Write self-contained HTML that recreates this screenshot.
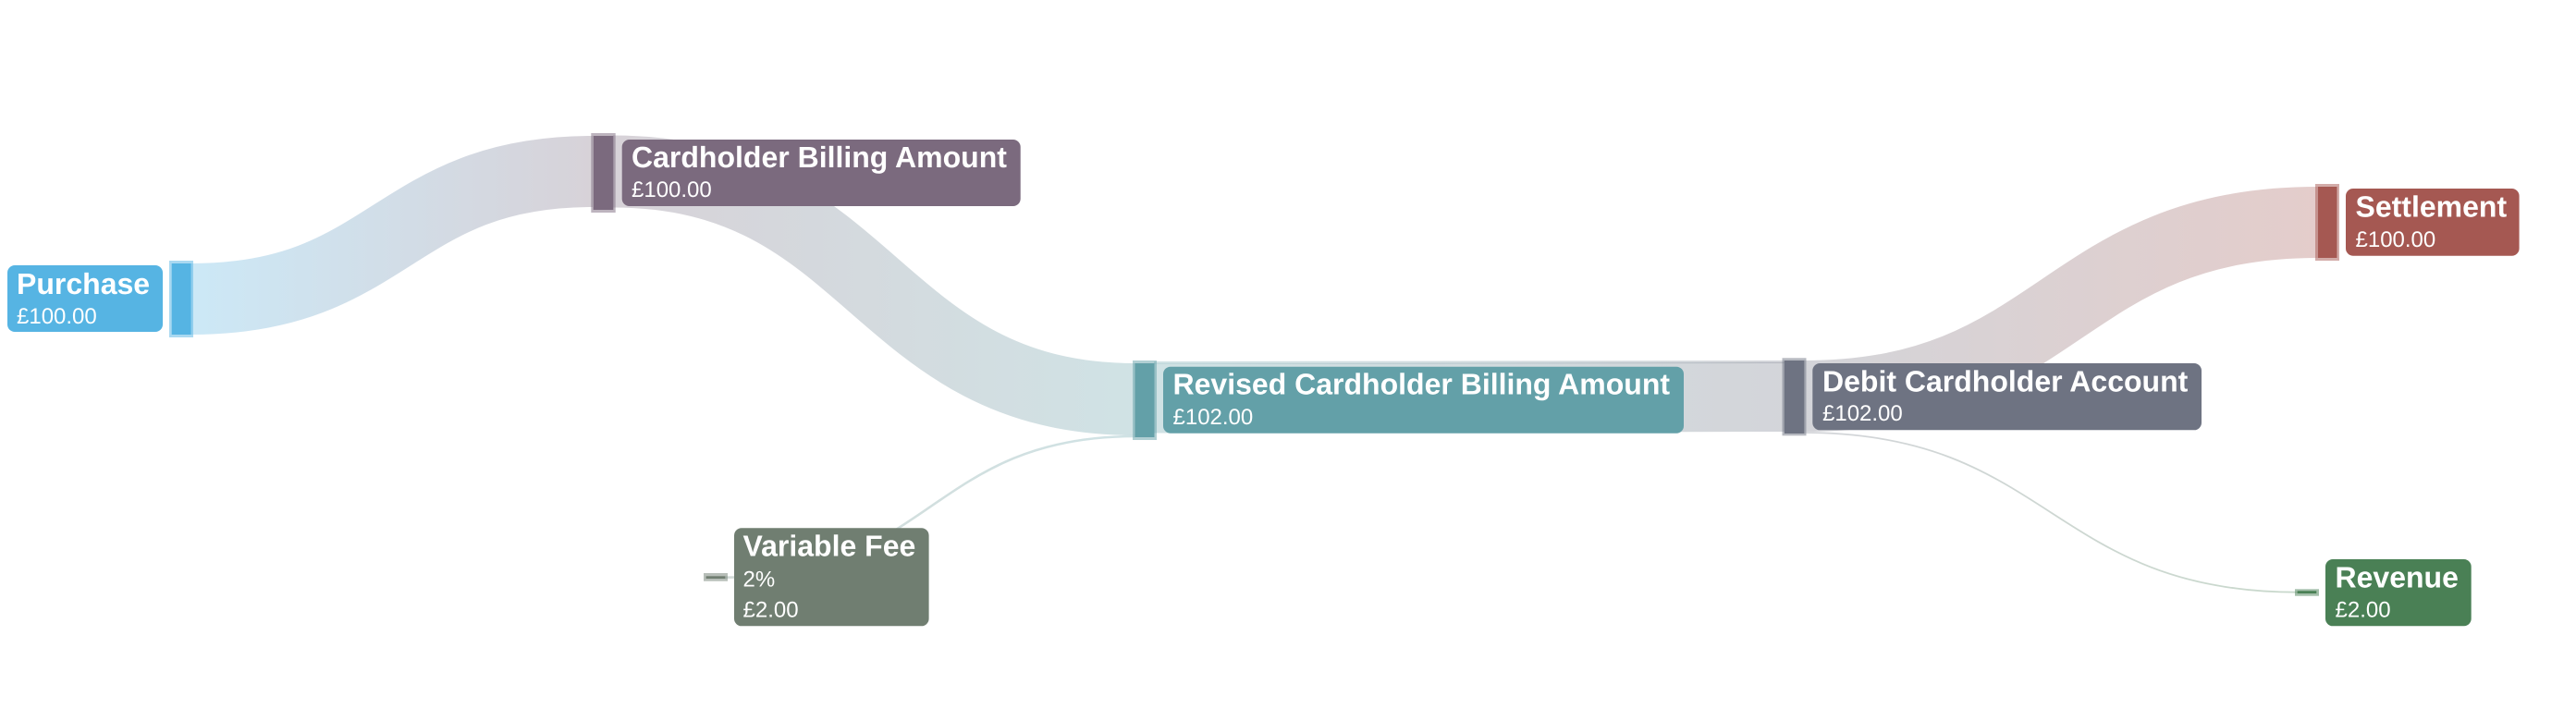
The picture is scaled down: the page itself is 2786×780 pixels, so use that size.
<!DOCTYPE html>
<html>
<head>
<meta charset="utf-8">
<style>
html,body{margin:0;padding:0;background:#fff;width:2786px;height:780px;overflow:hidden}
svg{display:block}
text{font-family:"Liberation Sans",sans-serif;fill:#fff;text-rendering:geometricPrecision}
.t{font-size:32px;font-weight:700}
.s{font-size:24px}
</style>
</head>
<body>
<svg width="2786" height="780" viewBox="0 0 2786 780" xmlns="http://www.w3.org/2000/svg">
<defs>
<linearGradient id="g1" gradientUnits="userSpaceOnUse" x1="207" y1="0" x2="641" y2="0"><stop offset="0" stop-color="#56b4e3"/><stop offset="1" stop-color="#7b6a7e"/></linearGradient>
<linearGradient id="g2" gradientUnits="userSpaceOnUse" x1="663" y1="0" x2="1228" y2="0"><stop offset="0" stop-color="#7b6a7e"/><stop offset="1" stop-color="#63a0a8"/></linearGradient>
<linearGradient id="g3" gradientUnits="userSpaceOnUse" x1="784" y1="0" x2="1228" y2="0"><stop offset="0" stop-color="#6f8a80"/><stop offset="1" stop-color="#63a0a8"/></linearGradient>
<linearGradient id="g4" gradientUnits="userSpaceOnUse" x1="1248" y1="0" x2="1930" y2="0"><stop offset="0" stop-color="#63a0a8"/><stop offset="1" stop-color="#6e7382"/></linearGradient>
<linearGradient id="g5" gradientUnits="userSpaceOnUse" x1="1951" y1="0" x2="2507" y2="0"><stop offset="0" stop-color="#6e7382"/><stop offset="1" stop-color="#a55852"/></linearGradient>
<linearGradient id="g6" gradientUnits="userSpaceOnUse" x1="1951" y1="0" x2="2485" y2="0"><stop offset="0" stop-color="#6e7382"/><stop offset="1" stop-color="#4a8055"/></linearGradient>
</defs>

<g fill="none" stroke-opacity="0.3">
<path d="M207 323.5C424 323.5 424 185.5 641 185.5" stroke="url(#g1)" stroke-width="77"/>
<path d="M663 185.5C945 185.5 945 432 1228 432" stroke="url(#g2)" stroke-width="78"/>
<path d="M784 624.7C1006 624.7 1006 472 1228 472" stroke="url(#g3)" stroke-width="2.6"/>
<path d="M1248 431L1930 429.5" stroke="url(#g4)" stroke-width="75"/>
<path d="M1248 392.5L1930 391.5" stroke="url(#g4)" stroke-width="3"/>
<path d="M1951 428.5C2229 428.5 2229 240.5 2507 240.5" stroke="url(#g5)" stroke-width="77"/>
<path d="M1951 468C2218 468 2218 640.7 2485 640.7" stroke="url(#g6)" stroke-width="1.8"/>
</g>

<!-- nodes -->
<rect x="183" y="282" width="26" height="83" fill="#56b4e3" opacity=".5"/><rect x="185.7" y="285" width="21" height="77" fill="#56b4e3"/>
<rect x="639.3" y="144" width="26.4" height="86" fill="#7b6a7e" opacity=".5"/><rect x="641.7" y="147" width="21.6" height="80" fill="#7b6a7e"/>
<rect x="1225" y="390" width="26" height="86" fill="#63a0a8" opacity=".5"/><rect x="1227.5" y="393" width="21" height="80" fill="#63a0a8"/>
<rect x="1927.5" y="387.3" width="26" height="84" fill="#6e7382" opacity=".5"/><rect x="1929.8" y="390" width="21.5" height="79" fill="#6e7382"/>
<rect x="2504" y="199" width="26" height="83" fill="#a55852" opacity=".5"/><rect x="2507" y="202" width="20.5" height="77" fill="#a55852"/>
<rect x="761" y="620" width="26" height="8.7" fill="#707e71" opacity=".5"/><rect x="763.6" y="623.3" width="20.7" height="2.7" fill="#707e71"/>
<rect x="2482" y="637.3" width="26" height="7.4" fill="#4a8055" opacity=".5"/><rect x="2484.7" y="639.3" width="20.6" height="2.7" fill="#4a8055"/>

<!-- labels -->
<rect x="8" y="287" width="168" height="72" rx="8" fill="#56b4e3"/>
<text class="t" x="18" y="318">Purchase</text><text class="s" x="18" y="350">£100.00</text>

<rect x="672.7" y="151" width="431" height="72" rx="8" fill="#7b6a7e"/>
<text class="t" x="683" y="181">Cardholder Billing Amount</text><text class="s" x="683" y="213">£100.00</text>

<rect x="1258" y="396.7" width="563" height="72" rx="8" fill="#63a0a8"/>
<text class="t" x="1268.5" y="426.7">Revised Cardholder Billing Amount</text><text class="s" x="1268.5" y="459">£102.00</text>

<rect x="1960.3" y="393" width="420.7" height="72.3" rx="8" fill="#6e7382"/>
<text class="t" x="1971" y="423.3">Debit Cardholder Account</text><text class="s" x="1971" y="455">£102.00</text>

<rect x="2537" y="204" width="187.6" height="72.7" rx="8" fill="#a55852"/>
<text class="t" x="2547.5" y="234.3">Settlement</text><text class="s" x="2547.5" y="267">£100.00</text>

<rect x="794" y="571.3" width="210.6" height="106" rx="8" fill="#707e71"/>
<text class="t" x="803.5" y="601.7">Variable Fee</text><text class="s" x="803.5" y="634.3">2%</text><text class="s" x="803.5" y="667.7">£2.00</text>

<rect x="2515" y="605" width="157.7" height="72.3" rx="8" fill="#4a8055"/>
<text class="t" x="2525.5" y="635.7">Revenue</text><text class="s" x="2525.5" y="667.3">£2.00</text>
</svg>
</body>
</html>
